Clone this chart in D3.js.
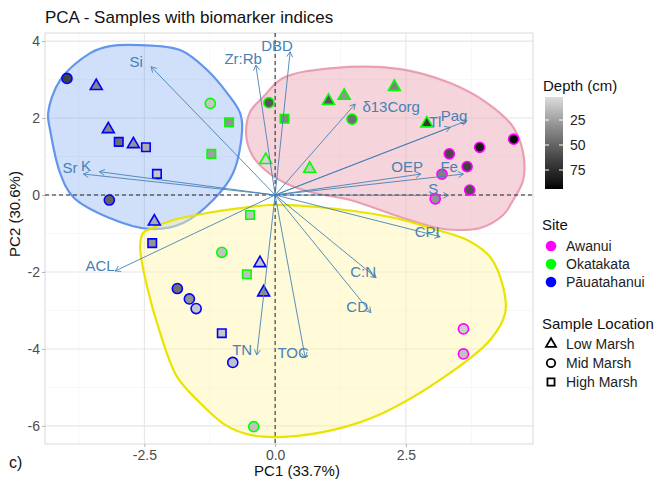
<!DOCTYPE html>
<html><head><meta charset="utf-8">
<script src="https://cdn.jsdelivr.net/npm/d3@7"></script>
<style>body{margin:0;background:#fff} text{font-family:"Liberation Sans",Arial,sans-serif}</style>
</head><body><svg id="c" width="659" height="486"></svg>
<script>
// ---------- data ----------
const sampleSite = ["Pāuatahanui","Pāuatahanui","Pāuatahanui","Pāuatahanui","Pāuatahanui","Pāuatahanui","Pāuatahanui","Pāuatahanui","Pāuatahanui","Pāuatahanui","Pāuatahanui","Pāuatahanui","Pāuatahanui","Pāuatahanui","Pāuatahanui","Pāuatahanui","Pāuatahanui",
  "Okatakata","Okatakata","Okatakata","Okatakata","Okatakata","Okatakata","Okatakata","Okatakata","Okatakata","Okatakata","Okatakata","Okatakata","Okatakata","Okatakata","Okatakata","Okatakata",
  "Awanui","Awanui","Awanui","Awanui","Awanui","Awanui","Awanui","Awanui","Awanui"];
const sampleLoc = ["Mid","Low","Low","High","Low","High","High","Mid","Low","High","Low","Low","Mid","Mid","Mid","High","Mid",
  "Mid","Mid","High","High","High","Low","High","Mid","Low","Low","Low","Mid","Low","Low","High","Mid",
  "Mid","Mid","Mid","Mid","Mid","Mid","Mid","Mid","Mid"];
const pc1 = [-3.98,-3.42,-3.19,-2.99,-2.71,-2.47,-2.26,-3.17,-2.31,-2.35,-0.29,-0.22,-1.87,-1.64,-1.51,-1.02,-0.81,
  -1.24,-0.12,-0.88,0.18,-1.22,-0.18,-0.48,-1.02,1.02,1.32,2.28,1.47,2.90,0.66,-0.54,-0.41,
  3.33,3.91,4.56,3.67,3.19,3.72,3.06,3.60,3.60];
const pc2 = [3.03,2.83,1.71,1.38,1.32,1.24,0.55,-0.13,-0.69,-1.25,-1.77,-2.53,-2.43,-2.70,-2.95,-3.59,-4.35,
  2.38,2.40,1.89,1.98,1.07,0.91,-0.52,-1.49,2.45,2.58,2.81,1.97,1.86,0.68,-2.06,-6.02,
  1.07,1.24,1.45,0.74,0.54,0.13,-0.10,-3.48,-4.13];
const depth = [65,35,35,45,30,20,10,50,20,30,10,30,45,30,10,10,12,
  10,55,30,35,25,5,12,12,55,30,38,45,70,10,12,12,
  62,85,92,65,38,58,30,8,12];

const loadName = ["Si","Zr:Rb","DBD","δ13Corg","Tl","Pag","OEP","Fe","S","CPI","C:N","CD","TOC","TN","ACL","Sr","K"];
const loadX = [-2.371,-0.369,0.287,1.530,3.346,3.665,2.786,3.600,3.314,3.155,1.931,1.830,0.574,-0.350,-3.059,-3.665,-3.359];
const loadY = [3.332,3.377,3.722,2.364,1.758,1.930,0.545,0.545,-0.008,-1.083,-2.148,-3.057,-4.226,-4.156,-1.974,0.545,0.605];
const labelX = [-2.658,-0.612,0.038,2.218,3.060,3.420,2.524,3.327,3.021,2.906,1.683,1.568,0.344,-0.631,-3.346,-3.920,-3.614];
const labelY = [3.455,3.532,3.870,2.286,1.896,2.070,0.727,0.727,0.156,-0.961,-2.0,-2.909,-4.104,-4.026,-1.844,0.701,0.753];

const hullBlue = [[-2.581,3.896],[-1.816,3.766],[-1.300,3.247],[-0.918,2.649],[-0.669,2.130],[-0.631,1.688],[-0.803,0.571],[-1.185,-0.130],[-1.759,-0.727],[-2.390,-0.883],[-3.212,-0.571],[-3.862,-0.052],[-4.111,0.571],[-4.302,1.688],[-4.340,2.130],[-4.111,2.987],[-3.537,3.688],[-3.155,3.870]];
const hullPink = [[-0.229,2.545],[0.153,3.039],[1.109,3.299],[2.390,3.273],[3.346,2.909],[4.054,2.390],[4.551,1.766],[4.742,1.091],[4.742,0.390],[4.551,-0.130],[4.359,-0.519],[3.920,-0.857],[3.480,-0.909],[3.098,-0.857],[2.390,-0.571],[1.434,-0.130],[0.669,0.078],[0.191,0.312],[-0.191,0.649],[-0.440,1.039],[-0.554,1.558],[-0.478,2.156]];
const hullYellow = [[-2.390,-0.883],[-1.950,-0.649],[-1.300,-0.468],[-0.096,-0.260],[0.803,-0.312],[2.199,-0.571],[3.098,-0.909],[3.671,-1.169],[4.111,-1.610],[4.359,-2.390],[4.398,-3.065],[4.111,-3.766],[3.346,-4.623],[2.065,-5.662],[1.109,-6.104],[0.153,-6.286],[-0.478,-6.234],[-0.956,-5.974],[-1.434,-5.403],[-1.874,-4.727],[-2.199,-3.584],[-2.447,-2.390],[-2.581,-1.351],[-2.524,-0.987]];

const xTicks = [-2.5,0,2.5];
const xMinor = [-3.75,-1.25,1.25,3.75];
const yTicks = [4,2,0,-2,-4,-6];
const yMinor = [3,1,-1,-3,-5];
const siteNames = ["Awanui","Okatakata","Pāuatahanui"];
const siteColors = ["#FF00FF","#00FF00","#0000FF"];
const locNames = ["Low","Mid","High"];
const locLabels = ["Low Marsh","Mid Marsh","High Marsh"];
const depthTicks = [25,50,75];

// ---------- layout ----------
const svg = d3.select("#c");
const P = {l:45, r:533, t:33, b:444};
const x = d3.scaleLinear().domain([-4.40,4.93]).range([P.l,P.r]);
const y = d3.scaleLinear().domain([-6.47,4.21]).range([P.b,P.t]);
const depthDom = [2,94];
const fillScale = d3.scaleLinear().domain(depthDom).range(["#dcdcdc","#000000"]).interpolate(d3.interpolateLab);
const siteColor = d3.scaleOrdinal().domain(siteNames).range(siteColors);
const shapeOf = d3.scaleOrdinal().domain(locNames).range([d3.symbolTriangle,d3.symbolCircle,d3.symbolSquare]);
const sizeOf = d3.scaleOrdinal().domain(locNames).range([62,80,72]);

// panel grid
const g = svg.append("g");
g.selectAll(".xm").data(xMinor).join("line").attr("x1",d=>x(d)).attr("x2",d=>x(d)).attr("y1",P.t).attr("y2",P.b).attr("stroke","#f2f2f2").attr("stroke-width",0.6);
g.selectAll(".ym").data(yMinor).join("line").attr("y1",d=>y(d)).attr("y2",d=>y(d)).attr("x1",P.l).attr("x2",P.r).attr("stroke","#f2f2f2").attr("stroke-width",0.6);
g.selectAll(".xM").data(xTicks).join("line").attr("x1",d=>x(d)).attr("x2",d=>x(d)).attr("y1",P.t).attr("y2",P.b).attr("stroke","#e6e6e6").attr("stroke-width",1.1);
g.selectAll(".yM").data(yTicks).join("line").attr("y1",d=>y(d)).attr("y2",d=>y(d)).attr("x1",P.l).attr("x2",P.r).attr("stroke","#e6e6e6").attr("stroke-width",1.1);

// hulls
const hullLine = d3.line().x(d=>x(d[0])).y(d=>y(d[1])).curve(d3.curveCatmullRomClosed.alpha(0.5));
const hulls = [[hullBlue,"#6495ED","#6495ED",0.3],[hullPink,"#e8a0b2","#e8a0b2",0.45],[hullYellow,"#e8e400","#fff6a8",0.45]];
hulls.forEach(h=>{
  svg.append("path").attr("d",hullLine(h[0])).attr("fill",h[2]).attr("fill-opacity",h[3]).attr("stroke",h[1]).attr("stroke-width",2.2);
});

// panel border
svg.append("rect").attr("x",P.l).attr("y",P.t).attr("width",P.r-P.l).attr("height",P.b-P.t).attr("fill","none").attr("stroke","#cfcfcf").attr("stroke-width",0.8);

// dashed reference lines
svg.append("line").attr("x1",x(0)).attr("x2",x(0)).attr("y1",P.t).attr("y2",P.b).attr("stroke","#222").attr("stroke-dasharray","4,3").attr("stroke-width",1);
svg.append("line").attr("y1",y(0)).attr("y2",y(0)).attr("x1",P.l).attr("x2",P.r).attr("stroke","#222").attr("stroke-dasharray","4,3").attr("stroke-width",1);

// points
const pts = pc1.map((v,i)=>({x:v,y:pc2[i],site:sampleSite[i],loc:sampleLoc[i],depth:depth[i]}));
svg.append("g").selectAll("path").data(pts).join("path")
  .attr("transform",d=>`translate(${x(d.x)},${y(d.y)})`)
  .attr("d",d=>d3.symbol().type(shapeOf(d.loc)).size(sizeOf(d.loc))())
  .attr("fill",d=>fillScale(d.depth)).attr("stroke",d=>siteColor(d.site)).attr("stroke-width",1.6);

// loading arrows
const ag = svg.append("g");
const ox = x(0), oy = y(0);
loadName.forEach((n,i)=>{
  const tx = x(loadX[i]), ty = y(loadY[i]);
  ag.append("line").attr("x1",ox).attr("y1",oy).attr("x2",tx).attr("y2",ty).attr("stroke","#4682B4").attr("stroke-width",0.9);
  const ang = Math.atan2(ty-oy,tx-ox), L=6, a=Math.PI/6;
  const p1 = [tx-L*Math.cos(ang-a), ty-L*Math.sin(ang-a)];
  const p2 = [tx-L*Math.cos(ang+a), ty-L*Math.sin(ang+a)];
  ag.append("path").attr("d",`M${p1[0]},${p1[1]}L${tx},${ty}L${p2[0]},${p2[1]}`).attr("fill","none").attr("stroke","#4682B4").attr("stroke-width",0.9);
});
ag.selectAll("text").data(loadName).join("text")
  .attr("x",(d,i)=>x(labelX[i])).attr("y",(d,i)=>y(labelY[i])).attr("dy","0.36em")
  .attr("text-anchor","middle").attr("font-size",15).attr("fill","#4682B4").text(d=>d);

// axes
const ax = svg.append("g").attr("transform",`translate(0,${P.b})`)
  .call(d3.axisBottom(x).tickValues(xTicks).tickSize(3).tickPadding(3));
const ay = svg.append("g").attr("transform",`translate(${P.l},0)`)
  .call(d3.axisLeft(y).tickValues(yTicks).tickSize(3).tickPadding(2));
[ax,ay].forEach(a=>{
  a.select(".domain").remove();
  a.selectAll(".tick line").attr("stroke","#b3b3b3");
  a.selectAll(".tick text").attr("fill","#4d4d4d").attr("font-size",14).style("font-family","'Liberation Sans',Arial,sans-serif");
});
ax.selectAll(".tick text").text(d=>d3.format(".1f")(d).replace("−","-"));
ay.selectAll(".tick text").text(d=>String(d).replace("−","-"));

// titles
svg.append("text").attr("x",45).attr("y",23).attr("font-size",17).attr("fill","#111").text("PCA - Samples with biomarker indices");
svg.append("text").attr("x",297).attr("y",476).attr("text-anchor","middle").attr("font-size",15).attr("fill","#111").text("PC1 (33.7%)");
svg.append("text").attr("transform","translate(20,214) rotate(-90)").attr("text-anchor","middle").attr("font-size",15).attr("fill","#111").text("PC2 (30.6%)");
svg.append("text").attr("x",9).attr("y",468).attr("font-size",16).attr("fill","#111").text("c)");

// depth legend
const lg = svg.append("g");
lg.append("text").attr("x",543).attr("y",91).attr("font-size",15).attr("fill","#111").text("Depth (cm)");
const defs = svg.append("defs");
const grad = defs.append("linearGradient").attr("id","dg").attr("x1",0).attr("x2",0).attr("y1",0).attr("y2",1);
d3.range(0,1.0001,0.1).forEach(t=>grad.append("stop").attr("offset",t).attr("stop-color",fillScale(depthDom[0]+t*(depthDom[1]-depthDom[0]))));
const cb = d3.scaleLinear().domain(depthDom).range([97,189]);
lg.append("rect").attr("x",545).attr("y",97).attr("width",18).attr("height",92).attr("fill","url(#dg)");
depthTicks.forEach(t=>{
  lg.append("line").attr("x1",545).attr("x2",549).attr("y1",cb(t)).attr("y2",cb(t)).attr("stroke","#fff");
  lg.append("line").attr("x1",559).attr("x2",563).attr("y1",cb(t)).attr("y2",cb(t)).attr("stroke","#fff");
  lg.append("text").attr("x",570).attr("y",cb(t)).attr("dy","0.36em").attr("font-size",14).attr("fill","#222").text(t);
});

// site legend
lg.append("text").attr("x",542).attr("y",230).attr("font-size",15).attr("fill","#111").text("Site");
siteNames.forEach((s,i)=>{
  const yy = 246 + i*18;
  lg.append("circle").attr("cx",551).attr("cy",yy).attr("r",5.3).attr("fill",siteColor(s));
  lg.append("text").attr("x",566).attr("y",yy).attr("dy","0.36em").attr("font-size",14).attr("fill","#222").text(s);
});

// location legend
lg.append("text").attr("x",542).attr("y",329).attr("font-size",15).attr("fill","#111").text("Sample Location");
locNames.forEach((s,i)=>{
  const yy = 344 + i*19;
  lg.append("path").attr("transform",`translate(551,${yy})`).attr("d",d3.symbol().type(shapeOf(s)).size(sizeOf(s)*0.7)())
    .attr("fill","#fff").attr("stroke","#000").attr("stroke-width",1.8);
  lg.append("text").attr("x",566).attr("y",yy).attr("dy","0.36em").attr("font-size",14).attr("fill","#222").text(locLabels[i]);
});
</script></body></html>
